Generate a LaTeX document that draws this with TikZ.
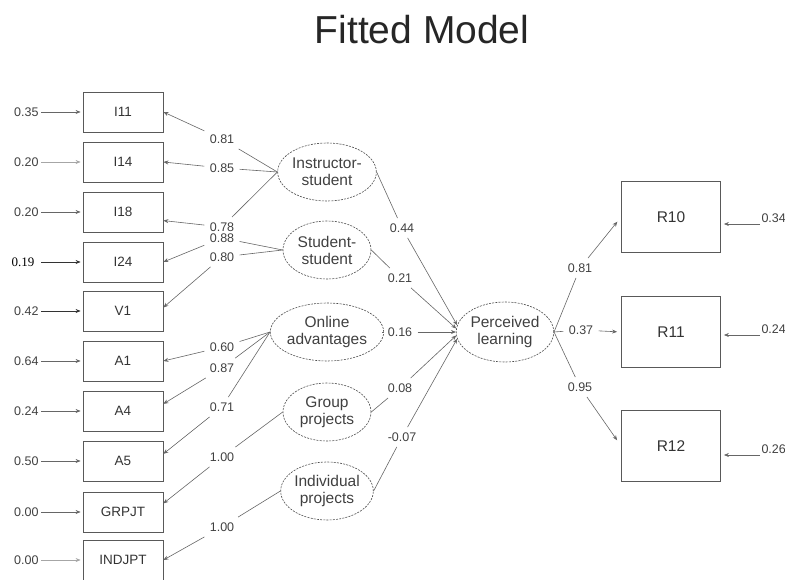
\documentclass[tikz,border=0pt]{standalone}
\usepackage{fontspec}
\setmainfont{Liberation Sans}
\newfontfamily\serifnum{Liberation Serif}
\usetikzlibrary{arrows.meta,shapes.geometric}
\begin{document}
\begin{tikzpicture}[x=1pt,y=-1pt,
  obs/.style={draw=black!65, line width=0.8pt, minimum width=80pt, minimum height=40pt, inner sep=0pt, font=\fontsize{13.5}{14}\selectfont, text=black!80},
  robs/.style={obs, minimum width=99pt, minimum height=71pt, font=\fontsize{15.5}{16}\selectfont},
  lat/.style={ellipse, draw=black!70, dash pattern=on 2pt off 1.2pt, line width=0.6pt, minimum width=88pt, minimum height=58pt, inner sep=0pt, align=center, font=\fontsize{15.5}{17}\selectfont, text=black!75},
  lab/.style={inner sep=1.5pt, outer sep=4pt, font=\fontsize{12.5}{13}\selectfont, text=black!75},
  elab/.style={lab, outer sep=1pt},
  ln/.style={draw=black!60, line width=0.6pt},
  arr/.style={ln, -{Stealth[length=5pt,width=4pt]}},
]
\useasboundingbox (0,0) rectangle (785,580);
\node[font=\fontsize{39}{39}\selectfont, text=black!85, anchor=base] (title) at (422,44) {Fitted Model};

% observed indicators (left)
\node[obs] (I11) at (123,112) {I11};
\node[obs] (I14) at (123,162) {I14};
\node[obs] (I18) at (123,212) {I18};
\node[obs] (I24) at (123,262) {I24};
\node[obs] (V1) at (123,311) {V1};
\node[obs] (A1) at (123,361) {A1};
\node[obs] (A4) at (123,411) {A4};
\node[obs] (A5) at (123,461) {A5};
\node[obs] (GRPJT) at (123,512) {GRPJT};
\node[obs] (INDJPT) at (123,560) {INDJPT};

% latent variables
\node[lat] (IS) at (327,172) {Instructor-\\student};
\node[lat] (SS) at (327,250) {Student-\\student};
\node[lat] (OA) at (327,332) {Online\\advantages};
\node[lat] (GP) at (327,412) {Group\\projects};
\node[lat] (IP) at (327,491) {Individual\\projects};
\node[lat, minimum width=95pt, minimum height=60pt] (PL) at (505,332) {Perceived\\learning};

% observed indicators (right)
\node[robs] (R10) at (671,217) {R10};
\node[robs] (R11) at (671,332) {R11};
\node[robs] (R12) at (671,446) {R12};

% error terms left
\node[elab, anchor=east] (e1) at (41,112) {0.35};
\node[elab, anchor=east] (e2) at (41,162) {0.20};
\node[elab, anchor=east] (e3) at (41,212) {0.20};
\node[elab, anchor=east, font=\serifnum\fontsize{13}{13}\selectfont, text=black] (e4) at (37,262) {0.19};
\node[elab, anchor=east] (e5) at (41,311) {0.42};
\node[elab, anchor=east] (e6) at (41,361) {0.64};
\node[elab, anchor=east] (e7) at (41,411) {0.24};
\node[elab, anchor=east] (e8) at (41,461) {0.50};
\node[elab, anchor=east] (e9) at (41,512) {0.00};
\node[elab, anchor=east] (e10) at (41,560) {0.00};
\draw[arr, shorten >=2pt] (e1) -- (I11);
\draw[arr, shorten >=2pt, draw=black!35] (e2) -- (I14);
\draw[arr, shorten >=2pt] (e3) -- (I18);
\draw[arr, shorten >=2pt, shorten <=4pt, draw=black!80] (e4) -- (I24);
\draw[arr, shorten >=2pt, draw=black!80] (e5) -- (V1);
\draw[arr, shorten >=2pt] (e6) -- (A1);
\draw[arr, shorten >=2pt] (e7) -- (A4);
\draw[arr, shorten >=2pt] (e8) -- (A5);
\draw[arr, shorten >=2pt] (e9) -- (GRPJT);
\draw[arr, shorten >=2pt, draw=black!35] (e10) -- (INDJPT);

% loadings labels
\node[lab] (l81) at (222,139) {0.81};
\node[lab] (l85) at (222,168) {0.85};
\node[lab] (l78) at (222,227) {0.78};
\node[lab] (l88) at (222,238) {0.88};
\node[lab] (l80) at (222,257) {0.80};
\node[lab] (l60) at (222,347) {0.60};
\node[lab] (l87) at (222,368) {0.87};
\node[lab] (l71) at (222,407) {0.71};
\node[lab] (lg) at (222,457) {1.00};
\node[lab] (li) at (222,527) {1.00};

\draw[ln] (IS.west) -- (l81);
\draw[arr] (l81) -- (I11.east);
\draw[ln] (IS.west) -- (l85);
\draw[arr] (l85) -- (I14.east);
\draw[ln] (IS.west) -- (l78);
\draw[arr] (l78) -- (I18.-12);
\draw[ln] (SS.west) -- (l88);
\draw[arr] (l88) -- (I24.east);
\draw[ln] (SS.west) -- (l80);
\draw[arr] (l80) -- (V1.5);
\draw[ln] (OA.west) -- (l60);
\draw[arr] (l60) -- (A1.east);
\draw[ln] (OA.west) -- (l87);
\draw[arr] (l87) -- (A4.10);
\draw[ln] (OA.west) -- (l71);
\draw[arr] (l71) -- (A5.10);
\draw[ln] (GP.west) -- (lg);
\draw[arr] (lg) -- (GRPJT.12);
\draw[ln] (IP.west) -- (li);
\draw[arr] (li) -- (INDJPT.east);

% structural paths
\node[lab] (l44) at (402,228) {0.44};
\node[lab] (l21) at (400,278) {0.21};
\node[lab] (l16) at (400,332) {0.16};
\node[lab] (l08) at (400,388) {0.08};
\node[lab] (l07) at (402,437) {-0.07};
\draw[ln] (IS.east) -- (l44);
\draw[arr] (l44) -- (PL.172);
\draw[ln] (SS.east) -- (l21);
\draw[arr] (l21) -- (PL.176);
\draw[ln] (OA.east) -- (l16);
\draw[arr] (l16) -- (PL.west);
\draw[ln] (GP.east) -- (l08);
\draw[arr] (l08) -- (PL.184);
\draw[ln] (IP.east) -- (l07);
\draw[arr] (l07) -- (PL.188);

% perceived learning indicators
\node[lab] (r81) at (580,268) {0.81};
\node[lab] (r37) at (581,330) {0.37};
\node[lab] (r95) at (580,387) {0.95};
\draw[ln] (PL.east) -- (r81);
\draw[arr, shorten >=6pt] (r81) -- (R10.west);
\draw[ln] (PL.east) -- (r37);
\draw[arr, shorten >=4pt] (r37) -- (R11.west);
\draw[ln] (PL.east) -- (r95);
\draw[arr, shorten >=7pt] (r95) -- (R12.west);

% error terms right
\node[lab, anchor=south west, outer sep=0pt] (er1) at (760,224) {0.34};
\node[lab, anchor=south west, outer sep=0pt] (er2) at (760,335) {0.24};
\node[lab, anchor=south west, outer sep=0pt] (er3) at (760,455) {0.26};
\draw[arr, shorten >=3pt] (er1.south west) -- (R10.east |- er1.south west);
\draw[arr, shorten >=3pt] (er2.south west) -- (R11.east |- er2.south west);
\draw[arr, shorten >=3pt] (er3.south west) -- (R12.east |- er3.south west);
\end{tikzpicture}
\end{document}
